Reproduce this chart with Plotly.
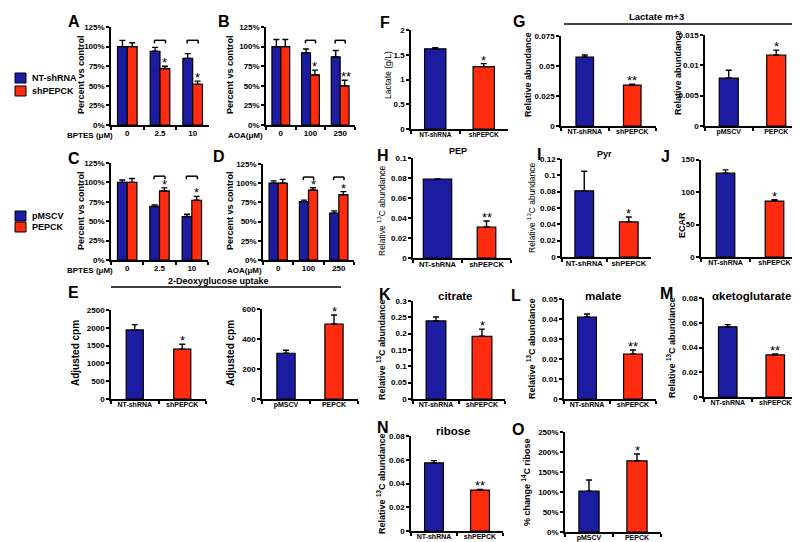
import plotly.graph_objects as go

W, H = 800, 542
BLUE = "#1c1ca0"
RED = "#ff2b0e"
FONT = "Liberation Sans, Arial, Helvetica, sans-serif"

# ---------------- data ----------------
bptes_doses = ["0", "2.5", "10"]
aoa_doses = ["0", "100", "250"]
kd_groups = ["NT-shRNA", "shPEPCK"]
oe_groups = ["pMSCV", "PEPCK"]

# A: BPTES, knockdown (percent vs control)
a_nt = [100, 94, 85]
a_nt_err = [8, 5, 6]
a_sh = [100, 72, 52]
a_sh_err = [5, 3, 4]
a_sig = ["", "*", "*"]
# B: AOA, knockdown
b_nt = [100, 92, 87]
b_nt_err = [9, 5, 8]
b_sh = [100, 64, 50]
b_sh_err = [9, 6, 7]
b_sig = ["", "*", "**"]
# C: BPTES, overexpression
c_ms = [100, 69, 56]
c_ms_err = [3, 2, 3]
c_pe = [100, 89, 77]
c_pe_err = [5, 4, 5]
c_sig = ["", "*", "*"]
# D: AOA, overexpression
d_ms = [100, 76, 61]
d_ms_err = [3, 2, 3]
d_pe = [100, 91, 85]
d_pe_err = [5, 3, 4]
d_sig = ["", "*", "*"]

# two-bar panels
e_kd = [1940, 1400]
e_kd_err = [150, 140]
e_oe = [305, 500]
e_oe_err = [20, 60]
f_lac = [1.62, 1.26]
f_lac_err = [0.02, 0.06]
g_kd = [0.0575, 0.034]
g_kd_err = [0.0017, 0.0008]
g_oe = [0.0079, 0.0117]
g_oe_err = [0.0013, 0.0008]
h_pep = [0.079, 0.031]
h_pep_err = [0, 0.006]
i_pyr = [0.081, 0.043]
i_pyr_err = [0.024, 0.006]
j_ecar = [129, 86]
j_ecar_err = [5, 2]
k_cit = [0.239, 0.192]
k_cit_err = [0.012, 0.022]
l_mal = [0.041, 0.0225]
l_mal_err = [0.0015, 0.002]
m_akg = [0.0567, 0.034]
m_akg_err = [0.0018, 0.0007]
n_rib = [0.0573, 0.0345]
n_rib_err = [0.002, 0.0005]
o_rib = [102, 178]
o_rib_err = [28, 17]

# ---------------- helpers ----------------
fig = go.Figure()
state = {"n": 0}


def px(x):
    return x / W


def py(y):
    return 1 - y / H


def bold(size, color="black"):
    return dict(family=FONT, size=size, color=color, weight="bold")


def new_axes(x0, x1, ytop, ybot, ymax, dtick, cats, suffix="", ytick=8, xtick=7.5, standoff=-2):
    state["n"] += 1
    n = state["n"]
    s = "" if n == 1 else str(n)
    common = dict(showline=True, linecolor="black", linewidth=1.5, ticks="outside",
                  ticklen=3, tickwidth=1.5, tickcolor="black", showgrid=False,
                  zeroline=False, fixedrange=True, automargin=False)
    fig.update_layout(**{
        f"xaxis{s}": dict(domain=[px(x0), px(x1)], anchor=f"y{s}", type="category",
                          categoryorder="array", categoryarray=cats,
                          range=[-0.5, len(cats) - 0.5], tickson="boundaries",
                          tickangle=0, ticklabelstandoff=standoff,
                          tickfont=bold(xtick), **common),
        f"yaxis{s}": dict(domain=[py(ybot), py(ytop)], anchor=f"x{s}", range=[0, ymax],
                          tick0=0, dtick=dtick, ticksuffix=suffix,
                          tickfont=bold(ytick), **common),
    })
    return f"x{s}", f"y{s}"


def err(arr):
    return dict(type="data", symmetric=False, array=arr, arrayminus=[0] * len(arr),
                color="black", thickness=1.4, width=3)


def star(xa, ya, x, y, text, size=13):
    fig.add_annotation(x=x, y=y, xref=xa, yref=ya, text=text, showarrow=False,
                       yanchor="bottom", yshift=-6, font=dict(family=FONT, size=size, color="black"))


def bracket(xa, ya, xl, xr, ytop, ybot):
    line = dict(color="black", width=1.5)
    fig.add_shape(type="line", xref=xa, yref=ya, x0=xl, x1=xr, y0=ytop, y1=ytop, line=line)
    fig.add_shape(type="line", xref=xa, yref=ya, x0=xl, x1=xl, y0=ytop, y1=ybot, line=line)
    fig.add_shape(type="line", xref=xa, yref=ya, x0=xr, x1=xr, y0=ytop, y1=ybot, line=line)


def grouped(pos, cats, v1, e1, v2, e2, n1, n2, sig, xlabel, xlabel_right):
    xa, ya = new_axes(*pos, 125, 25, cats, suffix="%", xtick=8, standoff=0)
    mk = lambda c: dict(color=c, line=dict(color="black", width=1.2))
    fig.add_bar(x=cats, y=v1, name=n1, xaxis=xa, yaxis=ya, marker=mk(BLUE),
                error_y=err(e1), showlegend=False)
    fig.add_bar(x=cats, y=v2, name=n2, xaxis=xa, yaxis=ya, marker=mk(RED),
                error_y=err(e2), showlegend=False)
    for i, s in enumerate(sig):
        if s:
            star(xa, ya, i + 0.15 + (0.05 if len(s) > 1 else 0), v2[i] + e2[i], s)
            bracket(xa, ya, i - 0.17, i + 0.17, 108, 104)
    # x title to the left of the tick labels
    fig.add_annotation(x=px(xlabel_right), y=py(pos[3] + 10), xref="paper", yref="paper",
                       text=xlabel, showarrow=False, xanchor="right", yanchor="middle",
                       font=bold(8))
    return xa, ya


def pair(pos, cats, vals, errs, ymax, dtick, sig, width=0.4, suffix="", ytick=8, xtick=7.5):
    xa, ya = new_axes(*pos, ymax, dtick, cats, suffix=suffix, ytick=ytick, xtick=xtick)
    w = width if isinstance(width, list) else [width] * len(cats)
    fig.add_bar(x=cats, y=vals, xaxis=xa, yaxis=ya, width=w, showlegend=False,
                marker=dict(color=[BLUE, RED], line=dict(color="black", width=1.2)),
                error_y=err(errs))
    for i, s in enumerate(sig):
        if s:
            star(xa, ya, i, vals[i] + errs[i], s)
    return xa, ya


def ytitle(x, y, text, size=9, weight="bold", color="black"):
    fig.add_annotation(x=px(x), y=py(y), xref="paper", yref="paper", text=text,
                       textangle=-90, showarrow=False, xanchor="center", yanchor="middle",
                       font=dict(family=FONT, size=size, color=color, weight=weight))


def label(x, y, text, size=15, anchor="center"):
    fig.add_annotation(x=px(x), y=py(y), xref="paper", yref="paper", text=text,
                       showarrow=False, xanchor=anchor, yanchor="middle", font=bold(size))


# ---------------- panels A-D ----------------
grouped((103, 201, 19, 117), bptes_doses, a_nt, a_nt_err, a_sh, a_sh_err,
        "NT-shRNA", "shPEPCK", a_sig, "BPTES (\u03bcM)", 107)
grouped((258, 347, 19, 117), aoa_doses, b_nt, b_nt_err, b_sh, b_sh_err,
        "NT-shRNA", "shPEPCK", b_sig, "AOA(\u03bcM)", 257)
grouped((103, 200, 155, 252), bptes_doses, c_ms, c_ms_err, c_pe, c_pe_err,
        "pMSCV", "PEPCK", c_sig, "BPTES (\u03bcM)", 107)
grouped((255, 346, 156, 252), aoa_doses, d_ms, d_ms_err, d_pe, d_pe_err,
        "pMSCV", "PEPCK", d_sig, "AOA(\u03bcM)", 256)
ytitle(73, 67, "Percent vs control")
ytitle(222, 67, "Percent vs control")
ytitle(73, 203, "Percent vs control")
ytitle(222, 203, "Percent vs control")

# legends (drawn as boxes + text)
for (name, color, yc) in [(kd_groups[0], BLUE, 70), (kd_groups[1], RED, 83),
                          (oe_groups[0], BLUE, 208), (oe_groups[1], RED, 219)]:
    fig.add_shape(type="rect", xref="paper", yref="paper", x0=px(7), x1=px(18),
                  y0=py(yc + 5), y1=py(yc - 5), fillcolor=color,
                  line=dict(color="black", width=1))
    label(22, yc, name, size=9, anchor="left")

# ---------------- panel E ----------------
pair((103, 198, 302, 391), kd_groups, e_kd, e_kd_err, 2500, 500, ["", "*"], width=0.36, xtick=7)
pair((254, 350, 301, 391), oe_groups, e_oe, e_oe_err, 600, 200, ["", "*"], width=0.38, xtick=7)
ytitle(67, 345, "Adjusted cpm", size=10)
ytitle(222, 345, "Adjusted cpm", size=10)
fig.add_shape(type="line", xref="paper", yref="paper", x0=px(103), x1=px(333),
              y0=py(279), y1=py(279), line=dict(color="black", width=1.5))
label(210, 273, "2-Deoxyglucose uptake", size=9)

# ---------------- F, G ----------------
pair((403, 500, 22, 121), kd_groups, f_lac, f_lac_err, 2, 0.5, ["", "*"], width=0.44, xtick=6.5)
ytitle(380, 67, "Lactate (g/L)", size=8.5, weight="normal")
pair((553, 648, 28, 118), kd_groups, g_kd, g_kd_err, 0.075, 0.025, ["", "**"], width=0.37, xtick=7)
ytitle(520, 67, "Relative abundance", size=9)
pair((697, 792, 27, 118), oe_groups, g_oe, g_oe_err, 0.015, 0.005, ["", "*"], width=0.4, xtick=7)
ytitle(670, 65, "Relative abundance", size=9)
fig.add_shape(type="line", xref="paper", yref="paper", x0=px(556), x1=px(787),
              y0=py(16), y1=py(16), line=dict(color="black", width=1.5))
label(648, 9, "Lactate m+3", size=9.5)

# ---------------- H, I, J ----------------
pair((405, 503, 150, 250), kd_groups, h_pep, h_pep_err, 0.1, 0.02, ["", "**"],
     width=[0.58, 0.38], xtick=7.5)
ytitle(374, 203, "Relative <sup>13</sup>C abundance", size=8.5, weight="normal")
label(450, 143, "PEP", size=9)
pair((554, 643, 151, 249), kd_groups, i_pyr, i_pyr_err, 0.12, 0.02, ["", "*"], width=0.42, xtick=7.5)
ytitle(523, 200, "Relative <sup>13</sup>C abundance", size=8.5, weight="normal")
label(596, 146, "Pyr", size=9)
pair((693, 791, 151.5, 249), kd_groups, j_ecar, j_ecar_err, 150, 50, ["", "*"], width=0.38, xtick=7)
ytitle(674, 217, "ECAR", size=9)

# ---------------- K, L, M ----------------
pair((405, 497, 293, 391), kd_groups, k_cit, k_cit_err, 0.3, 0.05, ["", "*"], width=0.43, xtick=7)
ytitle(373, 342, "Relative <sup>13</sup>C abundance", size=9)
label(447, 288, "citrate", size=11.5)
pair((556, 648, 291, 391), kd_groups, l_mal, l_mal_err, 0.05, 0.01, ["", "**"], width=0.41, xtick=7)
ytitle(523, 341, "Relative <sup>13</sup>C abundance", size=9)
label(595, 288, "malate", size=11.5)
pair((696, 791, 290, 389), kd_groups, m_akg, m_akg_err, 0.08, 0.02, ["", "**"], width=0.39, xtick=7)
ytitle(663, 340, "Relative <sup>13</sup>C abundance", size=9)
label(743, 288, "\u03b1ketoglutarate", size=11.5)

# ---------------- N, O ----------------
pair((403, 495, 428, 523), kd_groups, n_rib, n_rib_err, 0.08, 0.02, ["", "**"], width=0.41, xtick=7)
ytitle(373, 476, "Relative <sup>13</sup>C abundance", size=9)
label(445, 423, "ribose", size=11.5)
pair((557, 653, 424, 524), oe_groups, o_rib, o_rib_err, 250, 50, ["", "*"], width=0.42,
     suffix="%", xtick=7)
ytitle(518, 474, "% change <sup>14</sup>C ribose", size=9)

# ---------------- panel letters ----------------
for (lx, ly, t) in [(66, 13, "A"), (216, 14, "B"), (66, 150, "C"), (211, 148, "D"),
                    (65, 284, "E"), (377, 15, "F"), (511, 13, "G"), (375, 147, "H"),
                    (531, 146, "I"), (657, 148, "J"), (377, 286, "K"), (508, 287, "L"),
                    (658, 285, "M"), (375, 419, "N"), (510, 421, "O")]:
    label(lx, ly, t, size=16)

fig.update_layout(
    width=W, height=H, margin=dict(l=0, r=0, t=0, b=0),
    paper_bgcolor="white", plot_bgcolor="white",
    barmode="group", bargap=0.4, bargroupgap=0,
    font=dict(family=FONT, color="black"),
    showlegend=False,
)

fig.write_html("out.html")
